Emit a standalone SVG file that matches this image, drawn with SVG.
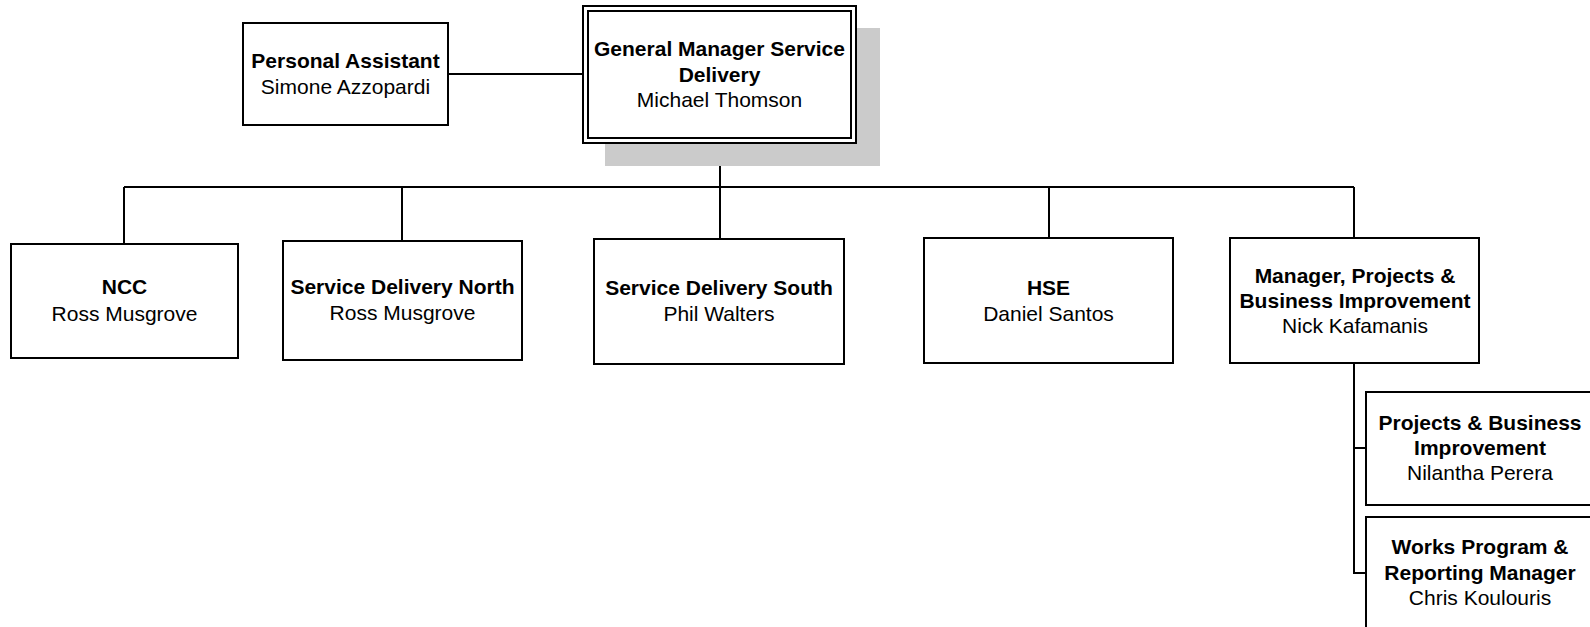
<svg xmlns="http://www.w3.org/2000/svg" width="1590" height="627" viewBox="0 0 1590 627">
  <style>
    .box { fill: #ffffff; stroke: #000000; stroke-width: 2; }
    .shadow { fill: #cbcbcb; stroke: none; }
    .wire { fill: none; stroke: #000000; stroke-width: 2; }
    text { font-family: "Liberation Sans", Arial, sans-serif; font-size: 21px; fill: #000000; text-anchor: middle; }
    .title { font-weight: bold; }
  </style>

  <!-- reporting lines -->
  <g id="connectors">
    <line class="wire" x1="448" y1="74" x2="583" y2="74"/>
    <line class="wire" x1="720" y1="143" x2="720" y2="239"/>
    <line class="wire" x1="124" y1="187" x2="1354" y2="187"/>
    <line class="wire" x1="124" y1="187" x2="124" y2="244"/>
    <line class="wire" x1="402" y1="187" x2="402" y2="241"/>
    <line class="wire" x1="1049" y1="187" x2="1049" y2="238"/>
    <line class="wire" x1="1354" y1="187" x2="1354" y2="238"/>
    <polyline class="wire" points="1354,363 1354,573 1366,573"/>
    <line class="wire" x1="1354" y1="448" x2="1366" y2="448"/>
  </g>

  <!-- general manager (double border with drop shadow) -->
  <g id="general-manager">
    <rect class="shadow" x="605" y="28" width="275" height="138"/>
    <rect class="box" x="583" y="6" width="273" height="137"/>
    <rect class="box" x="588" y="11" width="263" height="127"/>
    <text class="title" x="719.5" y="56">General Manager Service</text>
    <text class="title" x="719.5" y="81.5">Delivery</text>
    <text x="719.5" y="107">Michael Thomson</text>
  </g>

  <g id="personal-assistant">
    <rect class="box" x="243" y="23" width="205" height="102"/>
    <text class="title" x="345.5" y="68">Personal Assistant</text>
    <text x="345.5" y="94">Simone Azzopardi</text>
  </g>

  <g id="ncc">
    <rect class="box" x="11" y="244" width="227" height="114"/>
    <text class="title" x="124.5" y="294">NCC</text>
    <text x="124.5" y="321">Ross Musgrove</text>
  </g>

  <g id="service-delivery-north">
    <rect class="box" x="283" y="241" width="239" height="119"/>
    <text class="title" x="402.5" y="294">Service Delivery North</text>
    <text x="402.5" y="320">Ross Musgrove</text>
  </g>

  <g id="service-delivery-south">
    <rect class="box" x="594" y="239" width="250" height="125"/>
    <text class="title" x="719" y="295">Service Delivery South</text>
    <text x="719" y="321">Phil Walters</text>
  </g>

  <g id="hse">
    <rect class="box" x="924" y="238" width="249" height="125"/>
    <text class="title" x="1048.5" y="295">HSE</text>
    <text x="1048.5" y="321">Daniel Santos</text>
  </g>

  <g id="manager-projects">
    <rect class="box" x="1230" y="238" width="249" height="125"/>
    <text class="title" x="1355" y="283">Manager, Projects &amp;</text>
    <text class="title" x="1355" y="308">Business Improvement</text>
    <text x="1355" y="333">Nick Kafamanis</text>
  </g>

  <g id="projects-business-improvement">
    <rect class="box" x="1366" y="392" width="230" height="113"/>
    <text class="title" x="1480" y="430">Projects &amp; Business</text>
    <text class="title" x="1480" y="455">Improvement</text>
    <text x="1480" y="480">Nilantha Perera</text>
  </g>

  <g id="works-program">
    <rect class="box" x="1366" y="517" width="230" height="120"/>
    <text class="title" x="1480" y="554">Works Program &amp;</text>
    <text class="title" x="1480" y="580">Reporting Manager</text>
    <text x="1480" y="605">Chris Koulouris</text>
  </g>
</svg>
